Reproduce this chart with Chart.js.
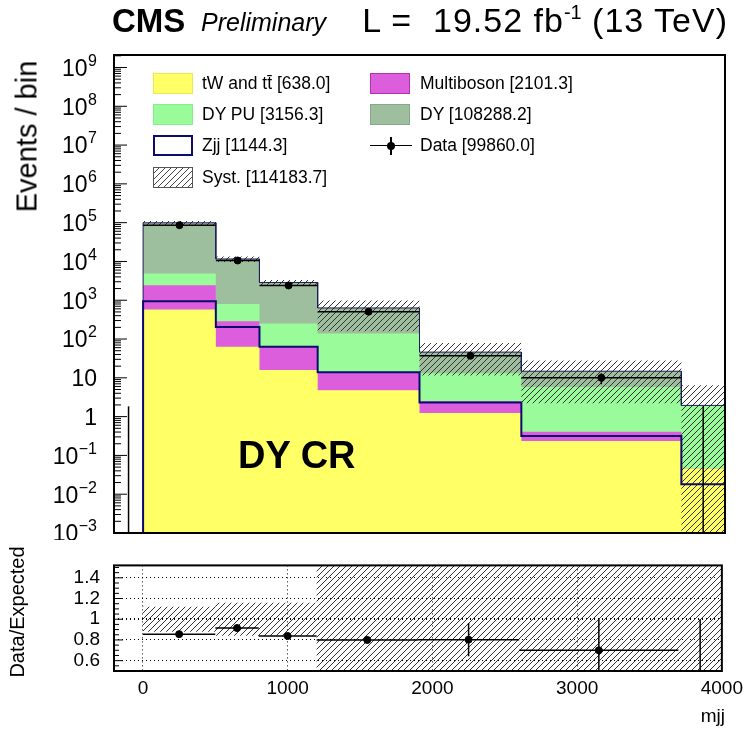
<!DOCTYPE html>
<html>
<head>
<meta charset="utf-8">
<title>DY CR - mjj</title>
<script src="https://cdn.jsdelivr.net/npm/chart.js@4.4.1/dist/chart.umd.min.js"></script>
<style>
  body { margin: 0; background: #fff; }
  #page { position: relative; width: 749px; height: 734px; overflow: hidden;
          font-family: "Liberation Sans", Arial, sans-serif; color: #000; }
  #page canvas { position: absolute; left: 0; }
  .t { position: absolute; white-space: nowrap; line-height: 1; }
  .rot { position: absolute; white-space: nowrap; line-height: 1; text-align: center;
         transform: rotate(-90deg); }
  .leg { position: absolute; font-size: 17.5px; line-height: 1; white-space: nowrap; }
  .box { position: absolute; width: 40px; height: 21px; box-sizing: border-box; }
  .sup { position: relative; top: -13px; font-size: 20px; letter-spacing: 0; }
</style>
</head>
<body>
<div id="page">
  <canvas id="mainChart" width="749" height="540" style="top:0"></canvas>
  <canvas id="ratioChart" width="749" height="194" style="top:540px"></canvas>

  <div class="t" style="left:112px;top:4px;font-size:33px;font-weight:bold">CMS</div>
  <div class="t" style="left:201px;top:10px;font-size:25px;font-style:italic">Preliminary</div>
  <div class="t" style="right:21px;top:3px;font-size:34px;letter-spacing:1px">L =&nbsp; 19.52 fb<span class="sup">-1</span> (13 TeV)</div>
  <div class="rot" style="left:-73px;top:122px;width:200px;font-size:29px">Events / bin</div>
  <div class="rot" style="left:-83px;top:602px;width:200px;font-size:20px">Data/Expected</div>
  <div class="t" style="right:24px;top:706px;font-size:19px">mjj</div>
  <div class="t" style="left:238px;top:436px;font-size:38px;font-weight:bold">DY CR</div>
  <div id="legend"></div>
</div>

<script>
// bin edges in mjj, first bin is the underflow [-200, 0]
const edges = [-200, 0, 500, 800, 1200, 1900, 2600, 3700, 4000];

// events per bin, one entry per bin
const tWtt       = [0, 575, 63, 16, 4.8, 1.24, 0.235, 0.046];
const multiboson = [0, 1875, 225, 50, 9.2, 1.3, 0.17, 0];
const dyPU       = [0, 2450, 512, 185, 124, 10.5, 5.4, 1.9];
const dy         = [0, 94300, 10800, 2620, 496, 33, 9, 0];
const zjj        = [0, 945, 204, 63, 14, 2.3, 0.315, 0.018];
const data       = [0, 86300, 10600, 2400, 507, 37, 10, 0];
const dataErrUp  = [1.84, 294, 103, 49, 22.5, 6.1, 3.2, 1.84];
const dataErrDn  = [0, 294, 103, 49, 22.5, 6.1, 3.2, 0];

// relative systematic uncertainty per bin
const systUp = [0, 0.12, 0.16, 0.16, 0.55, 0.72, 0.89, 2.3];
const systDn = [0, 0.12, 0.16, 0.16, 0.75, 0.75, 0.85, 1.0];

// data / expected
const ratio      = [null, 0.856, 0.915, 0.838, 0.80, 0.803, 0.70, 0];
const ratioErrUp = [0, 0.005, 0.01, 0.02, 0.03, 0.16, 0.31, 1.0];
const ratioErrDn = [0, 0.005, 0.01, 0.02, 0.03, 0.16, 0.31, 0];

// legend
const legendNames  = ["tW and tt\u0304", "Multiboson", "DY PU", "DY", "Zjj", "Data", "Syst."];
const legendTotals = [638.0, 2101.3, 3156.3, 108288.2, 1144.3, 99860.0, 114183.7];

// tick labels
const logExponents = [-3, -2, -1, 0, 1, 2, 3, 4, 5, 6, 7, 8, 9];
const xTicks = [0, 1000, 2000, 3000, 4000];
const xTickLabels = ["0", "1000", "2000", "3000", "4000"];
const ratioTicks = [0.6, 0.8, 1, 1.2, 1.4];
const ratioTickLabels = ["0.6", "0.8", "1", "1.2", "1.4"];

const X_MIN = -200, X_MAX = 4000;
const Y_MIN = 1e-3, Y_MAX = 2.1e9;
const R_MIN = 0.5, R_MAX = 1.52;

const FONT = "'Liberation Sans', Arial, sans-serif";
Chart.defaults.font.family = FONT;
Chart.defaults.color = "#000";

const YELLOW = "#ffff66", MAGENTA = "#dd5edd", LGREEN = "#99fb99", DGREEN = "#9ebf9e";
const NAVY = "#0b0b70", HATCH = "#333";

const centers = edges.slice(0, -1).map((e, i) => (e + edges[i + 1]) / 2);

// step outline: two points per bin
function hist(vals, floor) {
  const pts = [];
  vals.forEach((v, i) => {
    const y = Math.max(v, floor);
    pts.push({ x: edges[i], y: y }, { x: edges[i + 1], y: y });
  });
  return pts;
}

function hatchPattern(ctx, color) {
  const c = document.createElement("canvas");
  c.width = 6; c.height = 6;
  const g = c.getContext("2d");
  g.strokeStyle = color;
  g.lineWidth = 1;
  g.beginPath();
  g.moveTo(0, 6); g.lineTo(6, 0);
  g.moveTo(-1, 1); g.lineTo(1, -1);
  g.moveTo(5, 7); g.lineTo(7, 5);
  g.stroke();
  return ctx.createPattern(c, "repeat");
}

const cumTW = tWtt.slice();
const cumMB = cumTW.map((v, i) => v + multiboson[i]);
const cumPU = cumMB.map((v, i) => v + dyPU[i]);
const cumAll = cumPU.map((v, i) => v + dy[i]);

const clear = "rgba(0,0,0,0)";

// ---------- upper panel ----------
const mainCtx = document.getElementById("mainChart").getContext("2d");

const mainFrame = {
  id: "mainFrame",
  afterDraw(chart) {
    const { ctx, chartArea: a, scales: { y } } = chart;
    ctx.save();
    ctx.strokeStyle = "#000";
    ctx.lineWidth = 1;
    ctx.beginPath();
    logExponents.forEach(n => {
      const py = y.getPixelForValue(Math.pow(10, n));
      ctx.moveTo(a.left, py); ctx.lineTo(a.left + 13, py);
      for (let m = 2; m <= 9; m++) {
        const v = m * Math.pow(10, n);
        if (v >= Y_MAX) break;
        const pm = y.getPixelForValue(v);
        ctx.moveTo(a.left, pm); ctx.lineTo(a.left + 7, pm);
      }
    });
    ctx.stroke();
    ctx.lineWidth = 2;
    ctx.strokeRect(a.left, a.top, a.right - a.left, a.bottom - a.top);

    // 10^n labels
    ctx.fillStyle = "#000";
    ctx.textBaseline = "middle";
    ctx.textAlign = "right";
    const xr = a.left - 17;
    logExponents.forEach(n => {
      const py = y.getPixelForValue(Math.pow(10, n));
      if (n === 0 || n === 1) {
        ctx.font = "23px " + FONT;
        ctx.fillText(n === 0 ? "1" : "10", xr, py + 2);
        return;
      }
      const ex = n < 0 ? "\u2212" + (-n) : String(n);
      ctx.font = "16px " + FONT;
      const w = ctx.measureText(ex).width;
      ctx.fillText(ex, xr, py - 6);
      ctx.font = "23px " + FONT;
      ctx.fillText("10", xr - w - 0.5, py + 2);
    });
    ctx.restore();
  }
};

const mainBars = {
  id: "mainBars",
  afterDatasetsDraw(chart) {
    const { ctx, chartArea: a, scales: { x, y } } = chart;
    ctx.save();
    ctx.beginPath();
    ctx.rect(a.left, a.top, a.right - a.left, a.bottom - a.top);
    ctx.clip();
    ctx.strokeStyle = "#000";
    ctx.lineWidth = 1.5;
    data.forEach((v, i) => {
      const xc = x.getPixelForValue(centers[i]);
      ctx.beginPath();
      if (v > 0) {
        const py = y.getPixelForValue(v);
        ctx.moveTo(x.getPixelForValue(edges[i]), py);
        ctx.lineTo(x.getPixelForValue(edges[i + 1]), py);
        ctx.moveTo(xc, y.getPixelForValue(Math.max(v - dataErrDn[i], Y_MIN)));
        ctx.lineTo(xc, y.getPixelForValue(v + dataErrUp[i]));
      } else {
        ctx.moveTo(xc, a.bottom);
        ctx.lineTo(xc, y.getPixelForValue(dataErrUp[i]));
      }
      ctx.stroke();
    });
    ctx.restore();
  }
};

new Chart(mainCtx, {
  type: "line",
  data: {
    datasets: [
      {
        label: "Data", order: 0, showLine: false,
        data: data.map((v, i) => ({ x: centers[i], y: v })).filter(p => p.y > 0),
        pointRadius: 3.5, pointBackgroundColor: "#000", pointBorderColor: "#000"
      },
      { label: "Zjj", order: 1, data: hist(zjj, Y_MIN), borderColor: NAVY, borderWidth: 2, fill: false },
      { label: "total", order: 2, data: hist(cumAll, Y_MIN), borderColor: "#1c1c5c", borderWidth: 1, fill: false },
      {
        label: "Syst. up", order: 3, data: hist(cumAll.map((v, i) => v * (1 + systUp[i])), Y_MIN),
        borderColor: clear, borderWidth: 1, fill: { target: 4 }, backgroundColor: hatchPattern(mainCtx, HATCH)
      },
      {
        label: "Syst. down", order: 4, data: hist(cumAll.map((v, i) => v * (1 - systDn[i])), Y_MIN),
        borderColor: clear, borderWidth: 1, fill: false
      },
      { label: "tW", order: 5, data: hist(cumTW, Y_MIN), borderColor: clear, borderWidth: 1, fill: "start", backgroundColor: YELLOW },
      { label: "Multiboson", order: 6, data: hist(cumMB, Y_MIN), borderColor: clear, borderWidth: 1, fill: "start", backgroundColor: MAGENTA },
      { label: "DY PU", order: 7, data: hist(cumPU, Y_MIN), borderColor: clear, borderWidth: 1, fill: "start", backgroundColor: LGREEN },
      { label: "DY", order: 8, data: hist(cumAll, Y_MIN), borderColor: clear, borderWidth: 1, fill: "start", backgroundColor: DGREEN }
    ]
  },
  options: {
    responsive: false,
    animation: false,
    layout: { padding: { left: 114, right: 24, top: 55, bottom: 7 } },
    elements: { point: { radius: 0 }, line: { tension: 0 } },
    plugins: { legend: { display: false }, tooltip: { enabled: false } },
    scales: {
      x: { type: "linear", min: X_MIN, max: X_MAX, display: false },
      y: { type: "logarithmic", min: Y_MIN, max: Y_MAX, display: false }
    }
  },
  plugins: [mainBars, mainFrame]
});

// ---------- ratio panel ----------
const ratioCtx = document.getElementById("ratioChart").getContext("2d");

const ratioFrame = {
  id: "ratioFrame",
  afterDraw(chart) {
    const { ctx, chartArea: a, scales: { y } } = chart;
    ctx.save();
    ctx.strokeStyle = "#000";
    ctx.lineWidth = 1;
    ctx.beginPath();
    for (let k = 0; k <= 20; k++) {
      const v = R_MIN + k * 0.05;
      const py = y.getPixelForValue(v);
      const major = ratioTicks.some(t => Math.abs(t - v) < 1e-6);
      ctx.moveTo(a.left, py);
      ctx.lineTo(a.left + (major ? 9 : 5), py);
    }
    ctx.stroke();
    ctx.lineWidth = 2;
    ctx.strokeRect(a.left, a.top, a.right - a.left, a.bottom - a.top);
    ctx.restore();
  }
};

const ratioBars = {
  id: "ratioBars",
  afterDatasetsDraw(chart) {
    const { ctx, chartArea: a, scales: { x, y } } = chart;
    ctx.save();
    ctx.beginPath();
    ctx.rect(a.left, a.top, a.right - a.left, a.bottom - a.top);
    ctx.clip();
    ctx.strokeStyle = "#000";
    ctx.lineWidth = 1.5;
    ratio.forEach((r, i) => {
      if (r === null) return;
      const xc = x.getPixelForValue(centers[i]);
      const py = y.getPixelForValue(r);
      ctx.beginPath();
      if (r > 0) {
        ctx.moveTo(x.getPixelForValue(edges[i]), py);
        ctx.lineTo(x.getPixelForValue(edges[i + 1]), py);
      }
      ctx.moveTo(xc, y.getPixelForValue(r - ratioErrDn[i]));
      ctx.lineTo(xc, y.getPixelForValue(r + ratioErrUp[i]));
      ctx.stroke();
    });
    ctx.restore();
  }
};

new Chart(ratioCtx, {
  type: "line",
  data: {
    datasets: [
      {
        label: "Data/Expected", order: 0, showLine: false,
        data: ratio.map((r, i) => ({ x: centers[i], y: r })).filter(p => p.y !== null && p.y > 0),
        pointRadius: 3.5, pointBackgroundColor: "#000", pointBorderColor: "#000"
      },
      {
        label: "Syst. up", order: 1, data: hist(systUp.map(e => 1 + e), -10),
        borderColor: clear, borderWidth: 1, fill: { target: 2 }, backgroundColor: hatchPattern(ratioCtx, HATCH)
      },
      {
        label: "Syst. down", order: 2, data: hist(systDn.map(e => 1 - e), -10),
        borderColor: clear, borderWidth: 1, fill: false
      }
    ]
  },
  options: {
    responsive: false,
    animation: false,
    layout: { padding: { left: 0, right: 24, top: 13, bottom: 0 } },
    elements: { point: { radius: 0 }, line: { tension: 0 } },
    plugins: { legend: { display: false }, tooltip: { enabled: false } },
    scales: {
      x: {
        type: "linear", min: X_MIN, max: X_MAX,
        afterBuildTicks: s => { s.ticks = xTicks.map(v => ({ value: v })); },
        afterFit: s => { s.height = 63; },
        grid: { color: "#000", lineWidth: 1, drawTicks: false },
        border: { display: false, dash: [1, 3] },
        ticks: {
          padding: 6, maxRotation: 0, font: { size: 19 },
          callback: (v, i) => xTickLabels[i]
        }
      },
      y: {
        type: "linear", min: R_MIN, max: R_MAX,
        afterBuildTicks: s => { s.ticks = ratioTicks.map(v => ({ value: v })); },
        afterFit: s => { s.width = 114; },
        grid: {
          color: "#000", drawTicks: false,
          lineWidth: c => (c.tick && c.tick.value === 1 ? 2 : 1)
        },
        border: { display: false, dash: [1, 3] },
        ticks: {
          padding: 14, font: { size: 19 },
          callback: (v, i) => ratioTickLabels[i]
        }
      }
    }
  },
  plugins: [ratioBars, ratioFrame]
});

// ---------- legend ----------
const legendSlots = [
  { col: 0, row: 0, kind: "fill", color: YELLOW, border: "#e8e850" },
  { col: 1, row: 0, kind: "fill", color: MAGENTA, border: "#b530b5" },
  { col: 0, row: 1, kind: "fill", color: LGREEN, border: "#88ee88" },
  { col: 1, row: 1, kind: "fill", color: DGREEN, border: "#86a886" },
  { col: 0, row: 2, kind: "line" },
  { col: 1, row: 2, kind: "data" },
  { col: 0, row: 3, kind: "hatch" }
];
const rowY = [83, 114, 145.5, 177.5];
const boxX = [153, 370];
const textX = [202, 420];
const legend = document.getElementById("legend");

legendSlots.forEach((s, i) => {
  const cy = rowY[s.row];
  const bx = boxX[s.col];
  let html = "";
  if (s.kind === "fill") {
    html = `<div class="box" style="left:${bx}px;top:${cy - 10.5}px;background:${s.color};border:1px solid ${s.border}"></div>`;
  } else if (s.kind === "line") {
    html = `<div class="box" style="left:${bx}px;top:${cy - 10.5}px;background:#fff;border:2px solid ${NAVY}"></div>`;
  } else if (s.kind === "hatch") {
    html = `<div class="box" style="left:${bx}px;top:${cy - 10.5}px;border:1.5px solid #555;` +
      `background:repeating-linear-gradient(135deg,#fff 0px,#fff 3.2px,#444 3.2px,#444 4.2px)"></div>`;
  } else {
    html = `<div style="position:absolute;left:${bx}px;top:${cy - 0.75}px;width:42px;height:1.5px;background:#000"></div>` +
      `<div style="position:absolute;left:${bx + 20.25}px;top:${cy - 9}px;width:1.5px;height:18px;background:#000"></div>` +
      `<div style="position:absolute;left:${bx + 17}px;top:${cy - 4}px;width:8px;height:8px;border-radius:50%;background:#000"></div>`;
  }
  html += `<div class="leg" style="left:${textX[s.col]}px;top:${cy - 8.5}px">${legendNames[i]} [${legendTotals[i].toFixed(1)}]</div>`;
  legend.insertAdjacentHTML("beforeend", html);
});
</script>
</body>
</html>
